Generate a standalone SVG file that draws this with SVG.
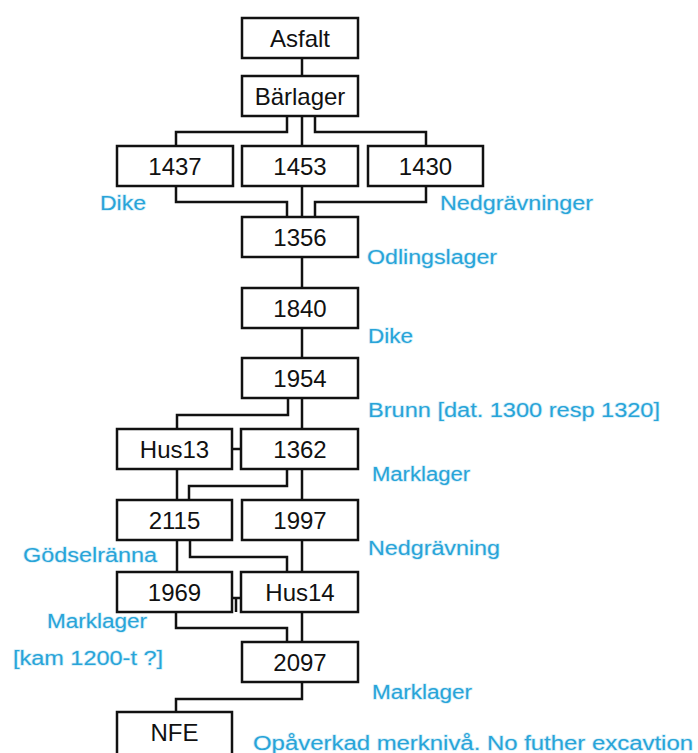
<svg xmlns="http://www.w3.org/2000/svg" width="698" height="753" viewBox="0 0 698 753">
<style>
.box rect{fill:#fff;stroke:#111;stroke-width:2.5}
.box text{font-family:"Liberation Sans",Arial,sans-serif;font-size:24px;fill:#111;text-anchor:middle}
#connectors path{fill:none;stroke:#111;stroke-width:2.5}
.lbl{font-family:"Liberation Sans",Arial,sans-serif;font-size:20px;fill:#28a4d8;stroke:#d6eff9;stroke-width:1.5;paint-order:stroke;stroke-linejoin:round}
</style>
<rect width="698" height="753" fill="#fff"/>
<g id="connectors">
<path d="M302 58V76"/>
<path d="M287 116V132H176V146"/>
<path d="M302 116V146"/>
<path d="M315 116V132H426V146"/>
<path d="M176 186V202H287V218"/>
<path d="M302 186V218"/>
<path d="M426 186V202H315V218"/>
<path d="M302 258V288"/>
<path d="M302 328V358"/>
<path d="M288 398V415H177V429"/>
<path d="M302 398V429"/>
<path d="M232 449H241"/>
<path d="M177 469V500"/>
<path d="M287 469V486H189V500"/>
<path d="M302 469V500"/>
<path d="M177 540V572"/>
<path d="M190 540V557H287V572"/>
<path d="M302 540V572"/>
<path d="M232 598H241M236 598V612"/>
<path d="M176 612V628H287V642"/>
<path d="M302 612V642"/>
<path d="M302 682V699H176V712"/>
</g>
<g id="n-asfalt" class="box"><rect x="242" y="18" width="116" height="40"/><text x="300" y="47">Asfalt</text></g>
<g id="n-barlager" class="box"><rect x="242" y="76" width="116" height="40"/><text x="300" y="105">Bärlager</text></g>
<g id="n-1437" class="box"><rect x="117" y="146" width="116" height="40"/><text x="175" y="175">1437</text></g>
<g id="n-1453" class="box"><rect x="242" y="146" width="116" height="40"/><text x="300" y="175">1453</text></g>
<g id="n-1430" class="box"><rect x="368" y="146" width="115" height="40"/><text x="425.5" y="175">1430</text></g>
<g id="n-1356" class="box"><rect x="242" y="217" width="116" height="40"/><text x="300" y="246">1356</text></g>
<g id="n-1840" class="box"><rect x="242" y="288" width="116" height="40"/><text x="300" y="317">1840</text></g>
<g id="n-1954" class="box"><rect x="242" y="358" width="116" height="40"/><text x="300" y="387">1954</text></g>
<g id="n-hus13" class="box"><rect x="117" y="429" width="115" height="40"/><text x="174.5" y="458">Hus13</text></g>
<g id="n-1362" class="box"><rect x="241" y="429" width="117" height="40"/><text x="300" y="458">1362</text></g>
<g id="n-2115" class="box"><rect x="117" y="500" width="115" height="40"/><text x="174.5" y="529">2115</text></g>
<g id="n-1997" class="box"><rect x="242" y="500" width="116" height="40"/><text x="300" y="529">1997</text></g>
<g id="n-1969" class="box"><rect x="117" y="572" width="115" height="40"/><text x="174.5" y="601">1969</text></g>
<g id="n-hus14" class="box"><rect x="241" y="572" width="117" height="40"/><text x="300" y="601">Hus14</text></g>
<g id="n-2097" class="box"><rect x="242" y="642" width="116" height="40"/><text x="300" y="671">2097</text></g>
<g id="n-nfe" class="box"><rect x="117" y="712" width="115" height="50"/><text x="174.5" y="741">NFE</text></g>
<g id="labels">
<text class="lbl" x="100" y="210" textLength="46" lengthAdjust="spacingAndGlyphs">Dike</text>
<text class="lbl" x="440" y="210" textLength="153" lengthAdjust="spacingAndGlyphs">Nedgrävninger</text>
<text class="lbl" x="367" y="264" textLength="130" lengthAdjust="spacingAndGlyphs">Odlingslager</text>
<text class="lbl" x="368" y="343" textLength="45" lengthAdjust="spacingAndGlyphs">Dike</text>
<text class="lbl" x="368" y="417" textLength="292" lengthAdjust="spacingAndGlyphs">Brunn [dat. 1300 resp 1320]</text>
<text class="lbl" x="372" y="481" textLength="98" lengthAdjust="spacingAndGlyphs">Marklager</text>
<text class="lbl" x="368" y="555" textLength="132" lengthAdjust="spacingAndGlyphs">Nedgrävning</text>
<text class="lbl" x="23" y="562" textLength="134" lengthAdjust="spacingAndGlyphs">Gödselränna</text>
<text class="lbl" x="47" y="628" textLength="100" lengthAdjust="spacingAndGlyphs">Marklager</text>
<text class="lbl" x="13" y="665" textLength="150" lengthAdjust="spacingAndGlyphs">[kam 1200-t ?]</text>
<text class="lbl" x="372" y="699" textLength="100" lengthAdjust="spacingAndGlyphs">Marklager</text>
<text class="lbl" x="253" y="750" textLength="440" lengthAdjust="spacingAndGlyphs">Opåverkad merknivå. No futher excavtion</text>
</g>
</svg>
